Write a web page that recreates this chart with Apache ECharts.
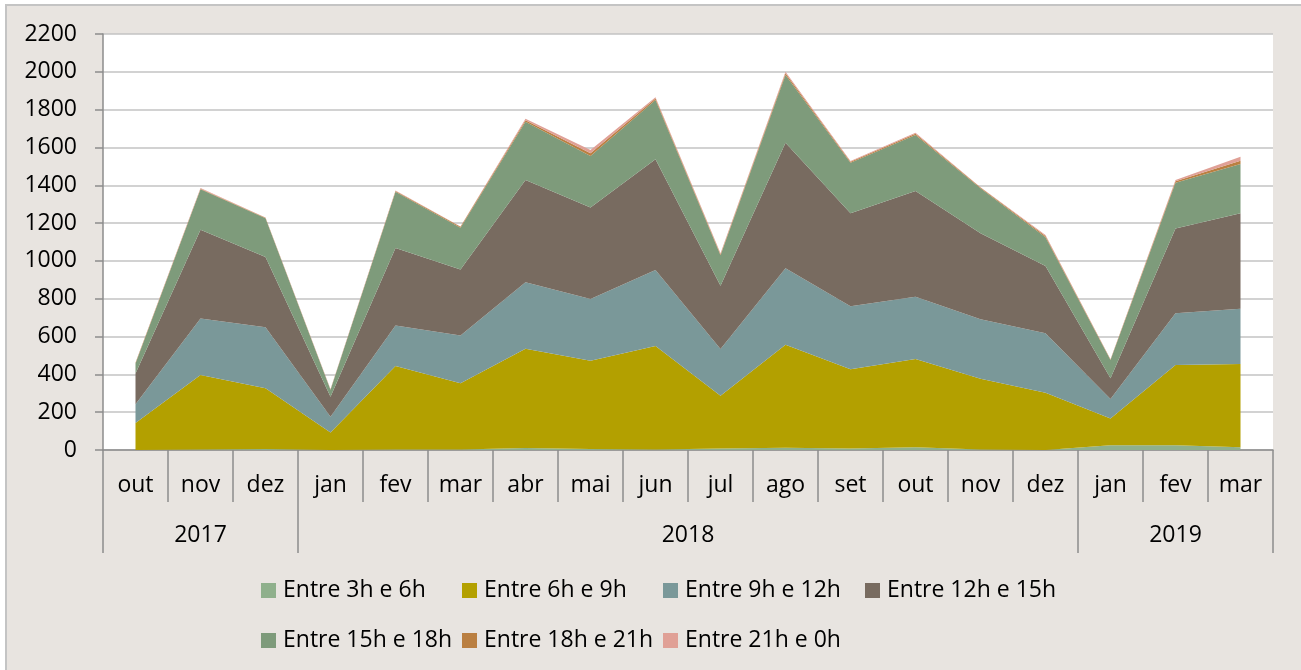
<!DOCTYPE html>
<html>
<head>
<meta charset="utf-8">
<script src="https://cdn.jsdelivr.net/npm/echarts@6/dist/echarts.min.js"></script>
<style>
  html, body { margin: 0; padding: 0; background: #fff; overflow: hidden; }
  #chart {
    position: absolute; left: 5px; top: 4px;
    width: 1294px; height: 664px;
    border-left: 2px solid #c4c4c4; border-top: 2px solid #c4c4c4;
  }
</style>
</head>
<body>
<div id="chart"></div>
<script>
// meses (eixo x) e anos
const months = ['out', 'nov', 'dez', 'jan', 'fev', 'mar', 'abr', 'mai', 'jun', 'jul', 'ago', 'set', 'out', 'nov', 'dez', 'jan', 'fev', 'mar'];
const years = ['2017', '2018', '2019'];
const yearSpans = [3, 12, 3];

// valores por faixa horária
const h3to6 = [0, 2, 5, 0, 2, 3, 10, 5, 3, 8, 12, 8, 15, 3, 0, 25, 25, 15];
const h6to9 = [143, 395, 321, 92, 442, 350, 526, 467, 547, 279, 545, 419, 466, 374, 303, 142, 424, 440];
const h9to12 = [99, 299, 323, 84, 215, 252, 351, 327, 402, 247, 404, 333, 330, 314, 314, 103, 274, 292];
const h12to15 = [163, 469, 372, 106, 409, 349, 541, 484, 585, 335, 664, 492, 559, 455, 356, 109, 449, 505];
const h15to18 = [53, 214, 204, 36, 298, 222, 308, 272, 314, 161, 358, 267, 296, 238, 152, 97, 242, 260];
const h18to21 = [3, 3, 3, 2, 4, 4, 8, 15, 8, 5, 10, 5, 7, 4, 7, 2, 7, 18];
const h21to0 = [2, 3, 2, 2, 2, 2, 8, 17, 6, 5, 8, 4, 5, 2, 5, 2, 7, 21];

const names = ['Entre 3h e 6h', 'Entre 6h e 9h', 'Entre 9h e 12h', 'Entre 12h e 15h', 'Entre 15h e 18h', 'Entre 18h e 21h', 'Entre 21h e 0h'];
const values = [h3to6, h6to9, h9to12, h12to15, h15to18, h18to21, h21to0];
const colors = ['#8FB08C', '#B3A000', '#7A9899', '#786B60', '#7E9B7B', '#BA7F41', '#E0A096'];

// limites e centros dos anos no eixo secundário
const yearBounds = [0];
const yearCenters = [];
yearSpans.forEach(function (s, i) {
  yearCenters.push(yearBounds[i] + s / 2);
  yearBounds.push(yearBounds[i] + s);
});

const font = "'Open Sans', sans-serif";
const fs = 23;
const axisGray = '#8c8c8c';

const chartDom = document.getElementById('chart');
const myChart = echarts.init(chartDom);

// legenda em colunas, como no Excel
const legendCols = [[0, 4], [1, 5], [2, 6], [3]];
const legendLeft = [254, 455, 656, 858];
const legends = legendCols.map(function (col, i) {
  return {
    orient: 'vertical',
    left: legendLeft[i],
    top: 573,
    padding: 0,
    itemGap: 27,
    itemWidth: 15,
    itemHeight: 15,
    icon: 'rect',
    selectedMode: false,
    data: col.map(function (k) { return names[k]; }),
    textStyle: { fontFamily: font, fontSize: fs, lineHeight: 22, color: '#000', padding: [0, 0, 0, 2] }
  };
});

const series = names.map(function (n, i) {
  return {
    name: n,
    type: 'line',
    stack: 'total',
    data: values[i],
    symbol: 'none',
    showSymbol: false,
    lineStyle: { width: 0 },
    areaStyle: { color: colors[i], opacity: 1 },
    itemStyle: { color: colors[i] },
    emphasis: { disabled: true }
  };
});

const option = {
  backgroundColor: '#e8e4e0',
  animation: false,
  legend: legends,
  grid: {
    left: 96,
    top: 28,
    right: 28,
    bottom: 220,
    show: true,
    backgroundColor: '#fff',
    borderWidth: 0
  },
  xAxis: [
    {
      type: 'category',
      data: months,
      boundaryGap: true,
      axisLine: { lineStyle: { color: axisGray, width: 1.5 } },
      axisTick: { show: true, interval: 0, length: 52, lineStyle: { color: axisGray, width: 1.5 } },
      axisLabel: { margin: 24, fontFamily: font, fontSize: fs, lineHeight: 22, color: '#000', interval: 0 }
    },
    {
      type: 'value',
      position: 'bottom',
      min: 0,
      max: months.length,
      axisLine: { show: false },
      splitLine: { show: false },
      axisTick: { show: true, customValues: yearBounds, length: 103, lineStyle: { color: axisGray, width: 1.5 } },
      axisLabel: {
        customValues: yearCenters,
        margin: 74,
        fontFamily: font, fontSize: fs, lineHeight: 22, color: '#000',
        formatter: function (v) {
          const i = yearCenters.indexOf(v);
          return i >= 0 ? years[i] : '';
        }
      }
    }
  ],
  yAxis: {
    type: 'value',
    min: 0,
    max: 2200,
    interval: 200,
    axisLine: { show: true, lineStyle: { color: axisGray, width: 1.5 } },
    axisTick: { show: true, length: 8, lineStyle: { color: axisGray, width: 1.5 } },
    splitLine: { lineStyle: { color: '#c3c3c3', width: 1.5 } },
    axisLabel: {
      margin: 26, fontFamily: font, fontSize: fs, color: '#000',
      formatter: function (v) { return String(v); }
    }
  },
  series: series
};
option && myChart.setOption(option);
</script>
</body>
</html>
